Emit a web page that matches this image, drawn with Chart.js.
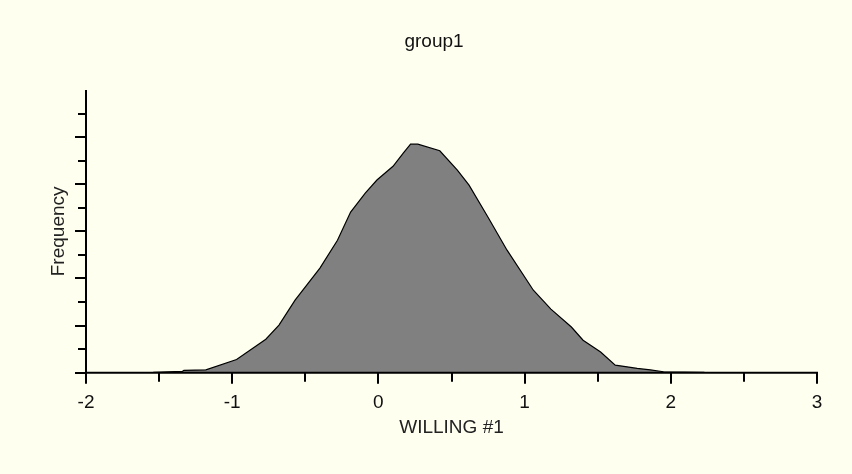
<!DOCTYPE html>
<html>
<head>
<meta charset="utf-8">
<script src="https://cdn.jsdelivr.net/npm/chart.js@4/dist/chart.umd.min.js"></script>
<style>
  html, body { margin: 0; padding: 0; background: #FFFFF0; }
  #c { display: block; }
</style>
</head>
<body>
<canvas id="c" width="852" height="474"></canvas>
<script>
// Frequency polygon of WILLING #1 for group1
const willingValues = [-1.54, -1.34, -1.33, -1.18, -0.97, -0.77, -0.68, -0.57, -0.40, -0.28, -0.19, -0.09, -0.01, 0.10, 0.17, 0.22, 0.27, 0.42, 0.54, 0.62, 0.75, 0.88, 1.06, 1.18, 1.32, 1.40, 1.52, 1.62, 1.69, 1.77, 1.86, 1.95, 2.23];
const frequencies   = [0.01, 0.03, 0.05, 0.06, 0.28, 0.71, 1.01, 1.54, 2.22, 2.81, 3.41, 3.81, 4.09, 4.38, 4.66, 4.85, 4.85, 4.71, 4.30, 3.98, 3.30, 2.60, 1.75, 1.35, 0.97, 0.69, 0.44, 0.16, 0.13, 0.09, 0.06, 0.02, 0.01];

// Axis ranges and tick marks
const xRange = [-2, 3];
const yRange = [0, 6];
const xMajorTicks = [-2, -1, 0, 1, 2, 3];
const xMinorTicks = [-1.5, -0.5, 0.5, 1.5, 2.5];
const yMajorTicks = [0, 1, 2, 3, 4, 5];
const yMinorTicks = [0.5, 1.5, 2.5, 3.5, 4.5, 5.5];

const points = willingValues.map((v, i) => ({ x: v, y: frequencies[i] }));

const FONT = "'Liberation Sans', Arial, sans-serif";

// Axis lines and tick marks drawn through the chart's own scales
const axisPlugin = {
  id: 'axisLines',
  afterDatasetsDraw(chart) {
    const { ctx, scales: { x, y } } = chart;
    const x0 = x.getPixelForValue(xRange[0]);
    const x1 = x.getPixelForValue(xRange[1]);
    const y0 = y.getPixelForValue(yRange[0]);
    const y1 = y.getPixelForValue(yRange[1]);
    ctx.save();
    ctx.strokeStyle = '#000';
    ctx.lineWidth = 2;
    ctx.lineCap = 'butt';
    ctx.beginPath();
    ctx.moveTo(x0, y1);
    ctx.lineTo(x0, y0);
    ctx.moveTo(x0 - 1, y0);
    ctx.lineTo(x1 + 1, y0);
    xMajorTicks.forEach(v => {
      const p = Math.round(x.getPixelForValue(v));
      ctx.moveTo(p, y0);
      ctx.lineTo(p, y0 + 11);
    });
    xMinorTicks.forEach(v => {
      const p = Math.round(x.getPixelForValue(v));
      ctx.moveTo(p, y0);
      ctx.lineTo(p, y0 + 9);
    });
    yMajorTicks.forEach(v => {
      const p = Math.round(y.getPixelForValue(v));
      ctx.moveTo(x0, p);
      ctx.lineTo(x0 - 11, p);
    });
    yMinorTicks.forEach(v => {
      const p = Math.round(y.getPixelForValue(v));
      ctx.moveTo(x0, p);
      ctx.lineTo(x0 - 8, p);
    });
    ctx.stroke();
    ctx.restore();
  }
};

new Chart(document.getElementById('c'), {
  type: 'line',
  data: {
    datasets: [{
      label: 'WILLING #1',
      data: points,
      fill: 'origin',
      backgroundColor: '#808080',
      borderColor: '#000000',
      borderWidth: 1.2,
      pointRadius: 0,
      tension: 0
    }]
  },
  options: {
    responsive: false,
    devicePixelRatio: 1,
    animation: false,
    layout: { padding: { left: 51, right: 35, top: 0, bottom: 0 } },
    plugins: {
      legend: { display: false },
      tooltip: { enabled: false },
      title: {
        display: true,
        text: 'group1',
        color: '#111',
        font: { family: FONT, size: 19, weight: 'normal' },
        padding: { top: 30.6, bottom: 36.6 }
      }
    },
    scales: {
      x: {
        type: 'linear',
        min: xRange[0],
        max: xRange[1],
        grid: { display: false, drawTicks: false },
        border: { display: false },
        ticks: {
          stepSize: 1,
          color: '#111',
          padding: 18.4,
          font: { family: FONT, size: 19 },
          callback: v => String(v)
        },
        title: {
          display: true,
          text: 'WILLING #1',
          color: '#222',
          font: { family: FONT, size: 19 },
          padding: { top: 0, bottom: 34.6 }
        },
        afterFit: s => { s.height = 101.3; }
      },
      y: {
        type: 'linear',
        min: yRange[0],
        max: yRange[1],
        grid: { display: false, drawTicks: false },
        border: { display: false },
        ticks: { display: false },
        title: {
          display: true,
          text: 'Frequency',
          color: '#222',
          font: { family: FONT, size: 19 },
          padding: { top: -3.4, bottom: 0 }
        },
        afterFit: s => { s.width = 35; }
      }
    }
  },
  plugins: [axisPlugin]
});
</script>
</body>
</html>
